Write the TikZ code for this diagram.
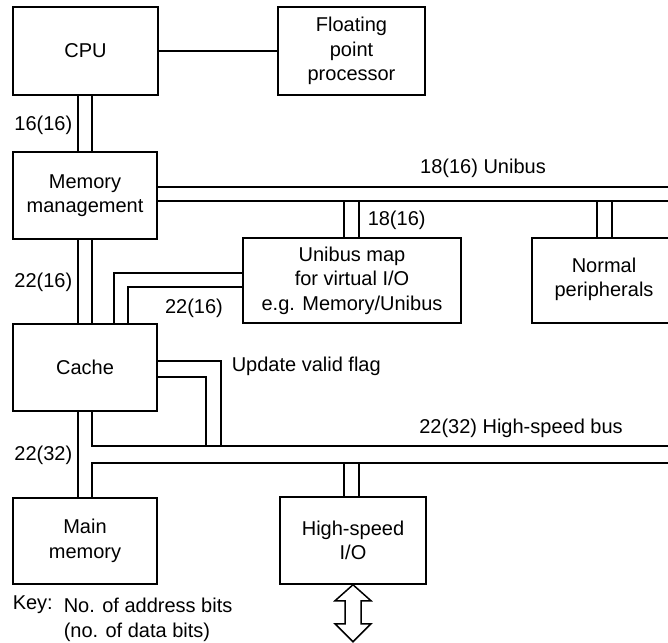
\documentclass[tikz,border=0pt]{standalone}
\usepackage{fontspec}
\setmainfont{Liberation Sans}
\begin{document}
\begin{tikzpicture}[x=1pt,y=-1pt,line width=1.5pt,line join=miter,
  every node/.style={font=\fontsize{20}{24.5}\selectfont},
  box/.style={draw,align=center,inner sep=0pt},
  lbl/.style={inner sep=0pt}]
\useasboundingbox (0,0) rectangle (668,642);
% boxes
\node[box,minimum width=145,minimum height=88] (cpu) at (85.5,51) {CPU};
\node[box,minimum width=147,minimum height=88] (fpp) at (351.5,51) {Floating\\point\\processor};
\node[box,minimum width=144,minimum height=87] (mmu) at (85,195.5) {Memory\\management};
\node[box,minimum width=218,minimum height=85] (map) at (352,280.5) {Unibus map\\for virtual I/O\\e.g. Memory/Unibus};
\node[align=center,inner sep=0pt] (periph) at (604,279.5) {Normal\\peripherals};
\draw (668,238) -| (532,323) -- (668,323);
\node[box,minimum width=144,minimum height=87] (cache) at (85,367.5) {Cache};
\node[box,minimum width=144,minimum height=86] (main) at (85,541) {Main\\memory};
\node[box,minimum width=146,minimum height=87] (hsio) at (353,540.5) {High-speed\\I/O};
% reference coordinates
\coordinate (xa) at (78,0);
\coordinate (xb) at (92,0);
\coordinate (ua) at (0,187);
\coordinate (ub) at (0,201);
\coordinate (ha) at (0,446);
\coordinate (hb) at (0,463);
\coordinate (re) at (668,0);
% CPU - FPP
\draw (cpu.east) -- (fpp.west);
% CPU - MMU
\draw (cpu.south -| xa) -- (mmu.north -| xa);
\draw (cpu.south -| xb) -- (mmu.north -| xb);
% Unibus
\draw (mmu.east |- ua) -- (re |- ua);
\draw (mmu.east |- ub) -- (re |- ub);
\draw (344,201) -- (map.north -| 344,0);
\draw (359,201) -- (map.north -| 359,0);
\draw (597,201) -- (597,238);
\draw (612,201) -- (612,238);
% MMU - Cache
\draw (mmu.south -| xa) -- (cache.north -| xa);
\draw (mmu.south -| xb) -- (cache.north -| xb);
% Map - Cache
\draw (map.west |- 0,273) -| (cache.north -| 114,0);
\draw (map.west |- 0,287) -| (cache.north -| 128,0);
% Update valid flag
\draw (cache.east |- 0,361) -| (221,446);
\draw (cache.east |- 0,377) -| (206,446);
% High-speed bus
\draw (cache.south -| xb) |- (re |- ha);
\draw (main.north -| xb) |- (re |- hb);
\draw (cache.south -| xa) -- (main.north -| xa);
\draw (344,463) -- (hsio.north -| 344,0);
\draw (359,463) -- (hsio.north -| 359,0);
% I/O arrow
\draw (hsio.south) -- ++(18,16) -- ++(-10,0) -- ++(0,23) -- ++(10,0) -- ++(-18,18)
  -- ++(-18,-18) -- ++(10,0) -- ++(0,-23) -- ++(-10,0) -- cycle;
% labels
\node[lbl,anchor=east] (l1) at (73,125) {16(16)};
\node[lbl,anchor=east] (l2) at (73,282) {22(16)};
\node[lbl] (l3) at (194,308) {22(16)};
\node[lbl] (l4) at (483,168) {18(16) Unibus};
\node[lbl,anchor=west] (l5) at (367,220) {18(16)};
\node[lbl,anchor=west] (l6) at (231,366) {Update valid flag};
\node[lbl] (l7) at (521,428) {22(32) High-speed bus};
\node[lbl,anchor=east] (l8) at (73,455) {22(32)};
\node[lbl,anchor=west] (k1) at (12,605) {Key:};
\node[lbl,anchor=west] (k2) at (63,605) {No. of address bits};
\node[lbl,anchor=west] (k3) at (63,632) {(no. of data bits)};
\end{tikzpicture}
\end{document}
